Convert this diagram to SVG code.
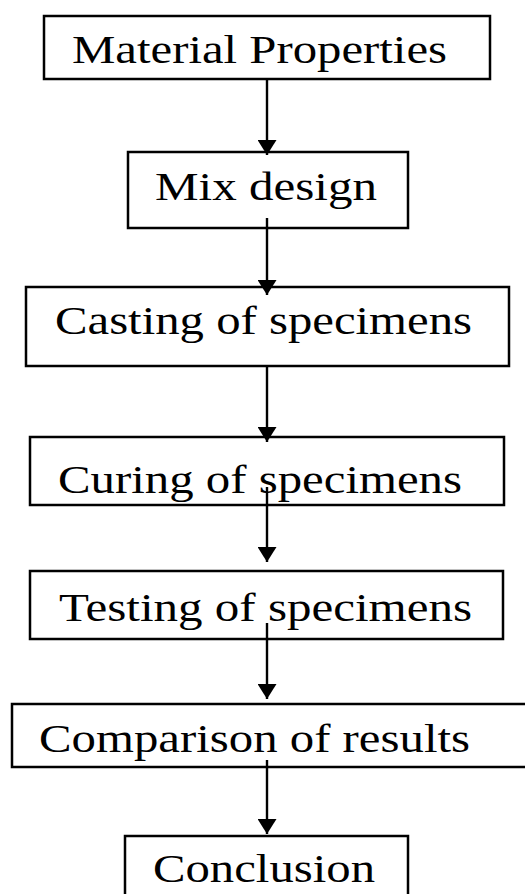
<svg xmlns="http://www.w3.org/2000/svg" width="525" height="894" viewBox="0 0 525 894">
<defs>
<style>
.box{fill:#fff;stroke:#000;stroke-width:2.5}
.lbl{font-family:"Liberation Serif","Times New Roman",serif;font-size:39px;fill:#000}
.conn{stroke:#000;stroke-width:2.4;fill:none}
</style>
<marker id="ah" viewBox="0 0 15 19" refX="15" refY="9.5" markerUnits="userSpaceOnUse" markerWidth="15" markerHeight="19" orient="auto">
<path d="M0,0 L15,9.5 L0,19 Z" fill="#000"/>
</marker>
</defs>
<rect width="525" height="894" fill="#fff"/>
<g id="n1"><rect class="box" x="44" y="16" width="446" height="63"/><text class="lbl" x="72" y="63" textLength="375" lengthAdjust="spacingAndGlyphs">Material Properties</text></g>
<g id="n2"><rect class="box" x="128" y="152" width="280" height="76"/><text class="lbl" x="155" y="200" textLength="222" lengthAdjust="spacingAndGlyphs">Mix design</text></g>
<g id="n3"><rect class="box" x="26" y="287" width="483" height="79"/><text class="lbl" x="55" y="334" textLength="417" lengthAdjust="spacingAndGlyphs">Casting of specimens</text></g>
<g id="n4"><rect class="box" x="30" y="437" width="474" height="68"/><text class="lbl" x="58" y="493" textLength="404" lengthAdjust="spacingAndGlyphs">Curing of specimens</text></g>
<g id="n5"><rect class="box" x="30" y="571" width="473" height="68"/><text class="lbl" x="59" y="621" textLength="413" lengthAdjust="spacingAndGlyphs">Testing of specimens</text></g>
<g id="n6"><rect class="box" x="12" y="704" width="530" height="63"/><text class="lbl" x="39" y="752" textLength="431" lengthAdjust="spacingAndGlyphs">Comparison of results</text></g>
<g id="n7"><rect class="box" x="125" y="836" width="283" height="80"/><text class="lbl" x="153" y="882" textLength="222" lengthAdjust="spacingAndGlyphs">Conclusion</text></g>
<g id="connectors">
<line class="conn" x1="267" y1="79" x2="267" y2="155" marker-end="url(#ah)"/>
<line class="conn" x1="267" y1="218" x2="267" y2="295" marker-end="url(#ah)"/>
<line class="conn" x1="267" y1="366" x2="267" y2="442" marker-end="url(#ah)"/>
<line class="conn" x1="267" y1="487" x2="267" y2="562" marker-end="url(#ah)"/>
<line class="conn" x1="267" y1="623" x2="267" y2="699" marker-end="url(#ah)"/>
<line class="conn" x1="267" y1="760" x2="267" y2="834" marker-end="url(#ah)"/>
</g>
</svg>
